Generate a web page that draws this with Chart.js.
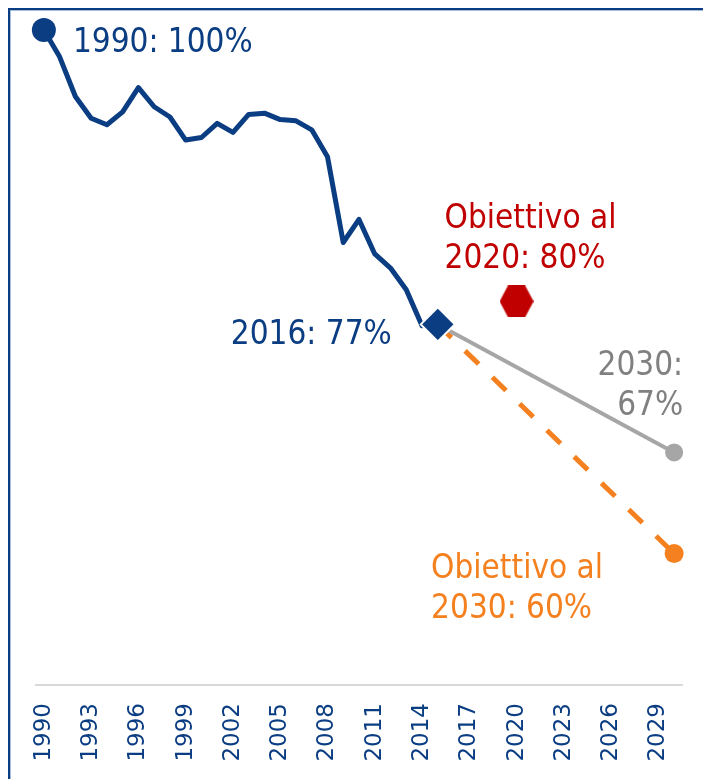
<!DOCTYPE html>
<html>
<head>
<meta charset="utf-8">
<script src="https://cdn.jsdelivr.net/npm/chart.js@4.4.1/dist/chart.umd.min.js"></script>
<style>
  html, body { margin: 0; padding: 0; background: #ffffff; overflow: hidden; }
  #wrap { position: relative; width: 703px; height: 779px; }
  canvas { position: absolute; left: 0; top: 0; }
</style>
</head>
<body>
<div id="wrap"><canvas id="c" width="703" height="779"></canvas></div>
<script>
// ---- data ----
const years = ['1990','1991','1992','1993','1994','1995','1996','1997','1998','1999',
               '2000','2001','2002','2003','2004','2005','2006','2007','2008','2009',
               '2010','2011','2012','2013','2014','2015','2016','2017','2018','2019',
               '2020','2021','2022','2023','2024','2025','2026','2027','2028','2029','2030'];
const shownTicks = ['1990','1993','1996','1999','2002','2005','2008','2011','2014','2017','2020','2023','2026','2029'];
// historical emissions index (1990 = 100%), 1990..2014
const historical = [100, 97.9, 94.8, 93.1, 92.6, 93.6, 95.5, 94.0, 93.2, 91.4,
                    91.6, 92.7, 92.0, 93.4, 93.5, 93.0, 92.9, 92.2, 90.1, 83.4,
                    85.2, 82.5, 81.4, 79.7, 76.9];
const latestYear = '2015';
const latestValue = 77;
const target2020Year = '2020';
const target2020Value = 78.8;
const trendEndYear = '2030';
const trendEndValue = 67;
const target2030Value = 59.1;
const labels = {
  start: '1990: 100%',
  latest: '2016: 77%',
  target2020: ['Obiettivo al', '2020: 80%'],
  trend: ['2030:', '67%'],
  target2030: ['Obiettivo al', '2030: 60%']
};

// ---- styles ----
const BLUE = '#0b3d82', RED = '#c00000', GRAY = '#a6a6a6', GRAYTXT = '#808080', ORANGE = '#f4801f';
const FONT = "'DejaVu Sans Condensed','DejaVu Sans',sans-serif";
const TICKFONT = "'DejaVu Sans',sans-serif";

// hexagon marker
function hexagon(w, h, color) {
  const c = document.createElement('canvas');
  c.width = w; c.height = h;
  const g = c.getContext('2d');
  g.fillStyle = color;
  g.beginPath();
  g.moveTo(0, h / 2);
  g.lineTo(w * 0.25, 0);
  g.lineTo(w * 0.75, 0);
  g.lineTo(w, h / 2);
  g.lineTo(w * 0.75, h);
  g.lineTo(w * 0.25, h);
  g.closePath();
  g.fill();
  return c;
}

const annotate = {
  id: 'annotate',
  afterDraw(chart) {
    const ctx = chart.ctx, xs = chart.scales.x, ys = chart.scales.y;
    // frame
    ctx.save();
    ctx.fillStyle = BLUE;
    ctx.fillRect(8, 8, 703, 2);
    ctx.fillRect(8, 8, 2, 779);
    ctx.fillStyle = '#a8bcda';
    ctx.fillRect(10, 10, 703, 1);
    ctx.fillRect(10, 10, 1, 779);

    ctx.font = '33px ' + FONT;
    ctx.textBaseline = 'alphabetic';

    // 1990
    let px = xs.getPixelForValue(0), py = ys.getPixelForValue(historical[0]);
    ctx.fillStyle = BLUE; ctx.textAlign = 'left';
    ctx.fillText(labels.start, px + 29, py + 22);

    // latest
    px = xs.getPixelForValue(years.indexOf(latestYear)); py = ys.getPixelForValue(latestValue);
    ctx.textAlign = 'right';
    ctx.fillText(labels.latest, px - 46, py + 20);

    // 2020 target
    px = xs.getPixelForValue(years.indexOf(target2020Year)); py = ys.getPixelForValue(target2020Value);
    ctx.fillStyle = RED; ctx.textAlign = 'left';
    ctx.fillText(labels.target2020[0], px - 72, py - 73);
    ctx.fillText(labels.target2020[1], px - 72, py - 33);

    // trend 2030
    px = xs.getPixelForValue(years.indexOf(trendEndYear)); py = ys.getPixelForValue(trendEndValue);
    ctx.fillStyle = GRAYTXT; ctx.textAlign = 'right';
    ctx.fillText(labels.trend[0], px + 9, py - 77);
    ctx.fillText(labels.trend[1], px + 9, py - 37);

    // target 2030
    py = ys.getPixelForValue(target2030Value);
    ctx.fillStyle = ORANGE; ctx.textAlign = 'left';
    ctx.fillText(labels.target2030[0], px - 243, py + 24);
    ctx.fillText(labels.target2030[1], px - 243, py + 64);
    ctx.restore();
  }
};

const startRadius = historical.map((v, i) => i === 0 ? 12 : 0);

new Chart(document.getElementById('c'), {
  type: 'line',
  data: {
    labels: years,
    datasets: [
      {
        label: 'latest',
        data: [{ x: latestYear, y: latestValue }],
        showLine: false,
        pointStyle: 'rectRot',
        pointRadius: 17,
        backgroundColor: BLUE,
        borderColor: '#ffffff',
        pointBorderWidth: 2,
        order: 0
      },
      {
        label: 'target2020',
        data: [{ x: target2020Year, y: target2020Value }],
        showLine: false,
        pointStyle: hexagon(34, 32, RED),
        order: 1
      },
      {
        label: 'historical',
        data: historical,
        borderColor: BLUE,
        backgroundColor: BLUE,
        borderWidth: 5,
        borderJoinStyle: 'round',
        borderCapStyle: 'round',
        pointRadius: startRadius,
        pointBorderWidth: 0,
        tension: 0,
        order: 2
      },
      {
        label: 'trend',
        data: [{ x: latestYear, y: latestValue }, { x: trendEndYear, y: trendEndValue }],
        borderColor: GRAY,
        backgroundColor: GRAY,
        borderWidth: 4,
        pointRadius: [0, 9],
        pointBorderWidth: 0,
        order: 3
      },
      {
        label: 'target2030',
        data: [{ x: latestYear, y: latestValue }, { x: trendEndYear, y: target2030Value }],
        borderColor: ORANGE,
        backgroundColor: ORANGE,
        borderWidth: 5,
        borderDash: [19, 19],
        pointRadius: [0, 9.5],
        pointBorderWidth: 0,
        order: 4
      }
    ]
  },
  options: {
    responsive: false,
    animation: false,
    devicePixelRatio: 1,
    clip: false,
    layout: { autoPadding: false, padding: { left: 36, right: 21, top: 10, bottom: 0 } },
    plugins: { legend: { display: false }, tooltip: { enabled: false } },
    scales: {
      x: {
        type: 'category',
        offset: true,
        grid: { display: false, drawTicks: false },
        border: { display: true, color: '#d9d9d9', width: 2 },
        afterFit(s) { s.height = 94; s.paddingLeft = 0; s.paddingRight = 0; },
        ticks: {
          autoSkip: false,
          minRotation: 90,
          maxRotation: 90,
          padding: 18,
          color: BLUE,
          font: { family: TICKFONT, size: 23 },
          callback(v) { const l = this.getLabelForValue(v); return shownTicks.includes(l) ? l : ''; }
        }
      },
      y: {
        display: false,
        min: 48.83,
        max: 101.56
      }
    }
  },
  plugins: [annotate]
});
</script>
</body>
</html>
